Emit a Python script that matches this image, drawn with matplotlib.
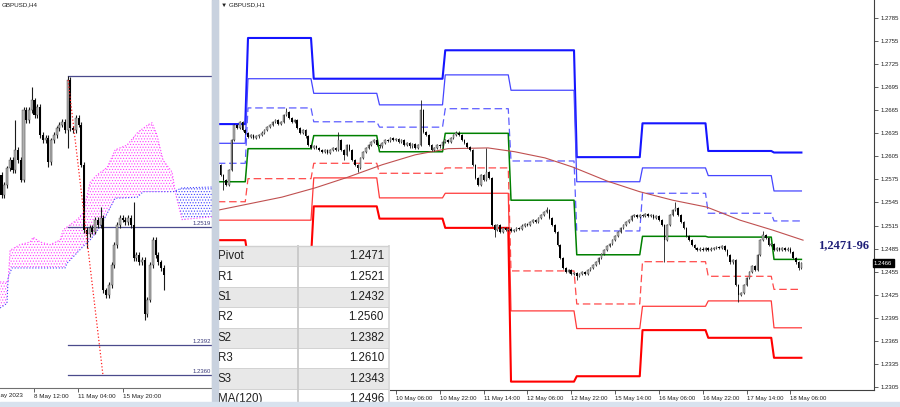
import numpy as np
import matplotlib
matplotlib.use("Agg")
import matplotlib.pyplot as plt
from matplotlib.patches import Rectangle

# ---------------- H1 chart (right panel) ----------------
h1_first_idx = -11
h1_first_open = 1.2600
h1_close = [
    1.2594, 1.2581, 1.2574, 1.2568, 1.2587, 1.2626, 1.2646, 1.2642, 1.2650, 1.2639, 1.2635,
    1.2630, 1.2633, 1.2629, 1.2631, 1.2633, 1.2636, 1.2639, 1.2643, 1.2646, 1.2650,
    1.2652, 1.2647, 1.2650, 1.2659, 1.2663, 1.2655, 1.2650, 1.2652, 1.2642, 1.2636,
    1.2639, 1.2631, 1.2620, 1.2616, 1.2618, 1.2616, 1.2613, 1.2611, 1.2613, 1.2609,
    1.2613, 1.2616, 1.2613, 1.2626, 1.2613, 1.2607, 1.2620, 1.2613, 1.2600, 1.2594,
    1.2590, 1.2603, 1.2611, 1.2616, 1.2620, 1.2624, 1.2626, 1.2620, 1.2618, 1.2622,
    1.2626, 1.2625, 1.2629, 1.2626, 1.2627, 1.2624, 1.2626, 1.2620, 1.2622, 1.2618,
    1.2621, 1.2616, 1.2620, 1.2665, 1.2637, 1.2633, 1.2620, 1.2613, 1.2616, 1.2620,
    1.2618, 1.2624, 1.2626, 1.2624, 1.2629, 1.2633, 1.2636, 1.2633, 1.2626, 1.2622,
    1.2617, 1.2613, 1.2594, 1.2577, 1.2568, 1.2581, 1.2574, 1.2585, 1.2577, 1.2516,
    1.2509, 1.2516, 1.2507, 1.2512, 1.2509, 1.2511, 1.2508, 1.2509, 1.2512, 1.2511,
    1.2515, 1.2517, 1.2516, 1.2520, 1.2522, 1.2520, 1.2525, 1.2529, 1.2533, 1.2535,
    1.2525, 1.2516, 1.2507, 1.2490, 1.2473, 1.2460, 1.2455, 1.2457, 1.2452, 1.2453,
    1.2450, 1.2452, 1.2455, 1.2452, 1.2457, 1.2460, 1.2464, 1.2467, 1.2473, 1.2478,
    1.2483, 1.2488, 1.2491, 1.2496, 1.2501, 1.2507, 1.2512, 1.2516, 1.2520, 1.2522,
    1.2527, 1.2529, 1.2526, 1.2529, 1.2527, 1.2530, 1.2527, 1.2529, 1.2525, 1.2527,
    1.2522, 1.2516, 1.2496, 1.2516, 1.2529, 1.2535, 1.2538, 1.2529, 1.2520, 1.2512,
    1.2501, 1.2496, 1.2490, 1.2486, 1.2483, 1.2485, 1.2483, 1.2486, 1.2483, 1.2485,
    1.2486, 1.2487, 1.2486, 1.2488, 1.2483, 1.2477, 1.2467, 1.2470, 1.2438, 1.2425,
    1.2427, 1.2438, 1.2447, 1.2455, 1.2462, 1.2457, 1.2477, 1.2496, 1.2503, 1.2499,
    1.2490, 1.2491, 1.2483, 1.2486, 1.2483, 1.2486, 1.2483, 1.2485, 1.2481, 1.2473,
    1.2467, 1.2460, 1.2466,
]
h1_hi = {14: 1.2668, 33: 1.2637, 63: 1.2678, 87: 1.2616, 109: 1.2539, 156: 1.2546, 188: 1.2508}
h1_lo = {-9: 1.2561, 35: 1.2600, 40: 1.2585, 90: 1.2500, 120: 1.2444, 152: 1.2467, 179: 1.2416, 201: 1.2457}

# daily pivot levels (5, 8, 9, 10, 11, 12, 15, 16, 17, 18 May)
day_start = [-11, 0, 24, 48, 72, 96, 120, 144, 168, 192]
last_bar = 202
r3 = [1.2647, 1.2759, 1.2706, 1.2706, 1.2743, 1.2743, 1.2604, 1.2648, 1.2612, 1.2610]
r2 = [1.2622, 1.2706, 1.2687, 1.2672, 1.2711, 1.2691, 1.2572, 1.2590, 1.2580, 1.2560]
r1 = [1.2596, 1.2668, 1.2650, 1.2643, 1.2667, 1.2599, 1.2508, 1.2557, 1.2531, 1.2521]
pv = [1.2572, 1.2615, 1.2632, 1.2611, 1.2635, 1.2548, 1.2477, 1.2501, 1.2500, 1.2471]
s1 = [1.2546, 1.2576, 1.2596, 1.2583, 1.2590, 1.2456, 1.2413, 1.2468, 1.2449, 1.2432]
s2 = [1.2522, 1.2522, 1.2577, 1.2551, 1.2557, 1.2404, 1.2381, 1.2410, 1.2417, 1.2382]
s3 = [1.2496, 1.2473, 1.2540, 1.2524, 1.2512, 1.2312, 1.2319, 1.2379, 1.2369, 1.2343]

ma_x = [-11, 12.4, 24.5, 36.5, 48.9, 61, 73, 87.6, 97.4, 108.4, 118.6, 131, 143, 155, 167.5, 179.6, 191.6, 202.6]
ma_y = [1.2535, 1.2552, 1.2564, 1.2578, 1.2594, 1.2607, 1.2615, 1.2616, 1.2611, 1.2603, 1.2591,
        1.2573, 1.2559, 1.2548, 1.2539, 1.2522, 1.2509, 1.2496]

h1_tick_pos = [54, 70, 86, 102, 118, 134, 150, 166, 182, 198]
h1_tick_lab = ["10 May 06:00", "10 May 22:00", "11 May 14:00", "12 May 06:00", "12 May 22:00",
               "15 May 14:00", "16 May 06:00", "16 May 22:00", "17 May 14:00", "18 May 06:00"]
price_ticks = [1.2305, 1.2335, 1.2365, 1.2395, 1.2425, 1.2455, 1.2485, 1.2515, 1.2545,
               1.2575, 1.2605, 1.2635, 1.2665, 1.2695, 1.2725, 1.2755, 1.2785]
last_price = 1.2466

# ---------------- H4 chart (left panel) ----------------
h4_first_open = 1.2575
h4_close = [
    1.2553, 1.2564, 1.2582, 1.2591, 1.2580, 1.2602, 1.2591, 1.2570, 1.2645, 1.2634,
    1.2645, 1.2655, 1.2639, 1.2648, 1.2618, 1.2612, 1.2615, 1.2589, 1.2612, 1.2618,
    1.2625, 1.2629, 1.2632, 1.2623, 1.2677, 1.2625, 1.2623, 1.2636, 1.2629, 1.2586,
    1.2516, 1.2511, 1.2518, 1.2514, 1.2527, 1.2521, 1.2529, 1.2451, 1.2446, 1.2457,
    1.2478, 1.2500, 1.2521, 1.2529, 1.2527, 1.2524, 1.2529, 1.2521, 1.2486, 1.2489,
    1.2481, 1.2484, 1.2425, 1.2441, 1.2478, 1.2505, 1.2489, 1.2481, 1.2475, 1.2467,
]
h4_hi = {5: 1.2634, 11: 1.2669, 24: 1.2681, 36: 1.2540, 48: 1.2546}
h4_lo = {1: 1.2550, 17: 1.2583, 24: 1.2604, 31: 1.2496, 38: 1.2443, 52: 1.2419, 59: 1.2451}

span_a_x = [-0.5, 2.4, 3.1, 6.7, 10.4, 11.5, 14, 17.6, 21.3, 22.4, 27.5, 29.6, 32.2, 34.7,
            38.4, 41.3, 45.6, 49.6, 53.3, 54.7, 56.5, 58.7, 62, 63.1, 65.6, 76.5]
span_a_y = [1.2460, 1.2460, 1.2494, 1.2500, 1.2503, 1.2508, 1.2503, 1.2500, 1.2505, 1.2516,
            1.2527, 1.2534, 1.2567, 1.2575, 1.2583, 1.2602, 1.2607, 1.2621, 1.2629, 1.2631,
            1.2618, 1.2591, 1.2578, 1.2557, 1.2527, 1.2530]
span_b_x = [-0.5, 2.0, 2.4, 3.8, 23.1, 23.8, 29.6, 32.2, 35.8, 41.3, 49.3, 51.5, 62.4, 65.6, 76.5]
span_b_y = [1.2432, 1.2437, 1.2465, 1.2475, 1.2475, 1.2480, 1.2498, 1.2505, 1.2519, 1.2550,
            1.2551, 1.2557, 1.2557, 1.2561, 1.2562]

h4_levels = [1.2681, 1.2519, 1.2392, 1.2360]
h4_level_lab = ["", "1.2519", "1.2392", "1.2360"]
trend_x = [24.2, 36.9]
trend_y = [1.2677, 1.2359]

h4_tick_pos = [-4.2, 11.8, 27.8, 44.2]
h4_tick_lab = ["4 May 2023", "8 May 12:00", "11 May 04:00", "15 May 20:00"]

tbl_names = ["Pivot", "R1", "S1", "R2", "S2", "R3", "S3", "MA(120)"]
tbl_vals = ["1.2471", "1.2521", "1.2432", "1.2560", "1.2382", "1.2610", "1.2343", "1.2496"]

SANS = ["Liberation Sans", "DejaVu Sans"]
plt.rcParams["font.family"] = SANS
plt.rcParams["hatch.linewidth"] = 0.5


def draw_candles(ax, x0, first_open, closes, hi, lo, pad, width, wick_lw):
    closes = np.array(closes)
    opens = np.concatenate([[first_open], closes[:-1]])
    x = x0 + np.arange(len(closes))
    highs = np.maximum(opens, closes) + pad
    lows = np.minimum(opens, closes) - pad
    for k, v in hi.items():
        highs[k - x0] = max(highs[k - x0], v)
    for k, v in lo.items():
        lows[k - x0] = min(lows[k - x0], v)
    up = closes >= opens
    body = np.maximum(np.abs(closes - opens), 0.00004)
    ax.vlines(x, lows, highs, color="#1a1a1a", lw=wick_lw, zorder=3)
    ax.bar(x[up], body[up], width, bottom=opens[up], color="#b0b0b0",
           edgecolor="#3a3a3a", lw=0.3, zorder=4)
    ax.bar(x[~up], body[~up], width, bottom=closes[~up], color="black", lw=0, zorder=4)


def steps(vals):
    xs, ys = [], []
    for d, v in enumerate(vals):
        end = day_start[d + 1] - 1 if d + 1 < len(day_start) else last_bar
        xs += [day_start[d], end]
        ys += [v, v]
    return xs, ys


fig = plt.figure(figsize=(9, 4.07), dpi=100)
fig.patch.set_facecolor("white")

# window frame bits
fig.patches.append(Rectangle((212 / 900, 0), 6 / 900, 1, transform=fig.transFigure,
                             color="#c9d2df", zorder=0))
fig.patches.append(Rectangle((0, 0), 1, 5 / 407, transform=fig.transFigure,
                             color="#d8e2ee", zorder=0))

# ---- left panel ----
ax1 = fig.add_axes([0, 1 - 388 / 407, 212 / 900, 388 / 407])
ax1.set_xlim(-0.55, 76.5)
ax1.set_ylim(1.2346, 1.2763)
for s in ("left", "top"):
    ax1.spines[s].set_visible(False)
ax1.spines["right"].set_color("#707070")
ax1.spines["bottom"].set_color("#707070")
ax1.spines["right"].set_linewidth(0.8)
ax1.spines["bottom"].set_linewidth(0.8)
ax1.set_yticks([])
ax1.set_xticks(h4_tick_pos[1:])
ax1.set_xticklabels(h4_tick_lab[1:], ha="left")
ax1.tick_params(axis="x", length=3, width=0.5, pad=1.5, labelsize=4.5, colors="#202020")
ax1.text(h4_tick_pos[0], -0.013, h4_tick_lab[0], transform=ax1.get_xaxis_transform(),
         ha="left", va="top", fontsize=4.5, color="#202020", clip_on=False)

na = 24
nb = 13
mag_x = span_a_x[:na] + span_b_x[:nb][::-1]
mag_y = span_a_y[:na] + span_b_y[:nb][::-1]
ax1.fill(mag_x, mag_y, fill=False, hatch="......", edgecolor="#ff40ff", lw=0, zorder=1)
blu_x = span_a_x[na - 1:] + span_b_x[nb - 1:][::-1]
blu_y = span_a_y[na - 1:] + span_b_y[nb - 1:][::-1]
ax1.fill(blu_x, blu_y, fill=False, hatch="......", edgecolor="#4040ff", lw=0, zorder=1)
ax1.plot(span_a_x, span_a_y, color="#ff40ff", lw=0.8, ls=":", zorder=2)
ax1.plot(span_b_x, span_b_y, color="#4040ff", lw=0.8, ls=":", zorder=2)

for lv, lb in zip(h4_levels, h4_level_lab):
    ax1.plot([trend_x[0], 76.5], [lv, lv], color="#4a4a8c", lw=0.9, zorder=2)
    if lb:
        ax1.text(76.2, lv + 0.0001, lb, ha="right", va="bottom", fontsize=4.3,
                 color="#3a3a7a", zorder=5)
ax1.plot(trend_x, trend_y, color="#ff2020", lw=0.9, ls=":", zorder=5)

draw_candles(ax1, 0, h4_first_open, h4_close, h4_hi, h4_lo, 0.0003, 0.75, 0.8)

# ---- right panel ----
ax2 = fig.add_axes([218 / 900, 1 - 390 / 407, 656 / 900, 390 / 407])
ax2.set_xlim(-10.95, 228.5)
ax2.set_ylim(1.23011, 1.28084)
ax2.spines["top"].set_visible(False)
ax2.spines["left"].set_color("#a0a0a0")
for s in ("right", "bottom"):
    ax2.spines[s].set_color("#404040")
    ax2.spines[s].set_linewidth(0.8)
ax2.yaxis.tick_right()
ax2.set_yticks(price_ticks)
ax2.set_yticklabels([f"{p:.4f}" for p in price_ticks])
ax2.set_xticks(h1_tick_pos)
ax2.set_xticklabels(h1_tick_lab, ha="left")
ax2.tick_params(axis="both", length=3, width=0.5, labelsize=4.3, colors="#202020")
ax2.tick_params(axis="x", pad=1.5)
ax2.tick_params(axis="y", pad=2)

line_styles = [
    (r3, "#1515ff", 1.5, "-"),
    (r2, "#4545ff", 0.9, "-"),
    (r1, "#5c5cff", 0.9, (0, (6, 3))),
    (pv, "#008000", 1.1, "-"),
    (s1, "#ff4a4a", 0.9, (0, (6, 3))),
    (s2, "#ff3a3a", 0.9, "-"),
    (s3, "#ff0000", 1.5, "-"),
]
for vals, col, lw, ls in line_styles:
    xs, ys = steps(vals)
    ax2.plot(xs, ys, color=col, lw=lw, ls=ls, zorder=2)

ax2.plot(ma_x, ma_y, color="#c05050", lw=0.8, zorder=2)

draw_candles(ax2, h1_first_idx, h1_first_open, h1_close, h1_hi, h1_lo, 0.00015, 0.6, 0.6)

ax2.text(1.0, last_price, "1.2466", transform=ax2.get_yaxis_transform(), ha="left",
         va="center", fontsize=4.3, color="white", clip_on=False, zorder=6,
         bbox=dict(boxstyle="square,pad=0.25", fc="black", ec="black"))

# titles
fig.text(2 / 900, 1 - 5 / 407, "GBPUSD,H4", fontsize=4.5, va="center", color="#202020")
fig.text(221 / 900, 1 - 5 / 407, "\u25bc GBPUSD,H1", fontsize=4.5, va="center", color="#202020")

# level range note
fig.text(818 / 900, 1 - 245 / 407, "1,2471-96", fontsize=9, fontweight="bold",
         family=["Liberation Serif", "DejaVu Serif"], color="#1f1f78", va="center", ha="left")

# ---- table ----
axt = fig.add_axes([213 / 900, 0, 177 / 900, 162 / 407])
axt.set_xlim(0, 177)
axt.set_ylim(162, 0)
axt.axis("off")
row_h = 20.4
for i, (nm, vl) in enumerate(zip(tbl_names, tbl_vals)):
    top = 1 + i * row_h
    fc = "#e8e8e8" if i % 2 == 0 else "white"
    axt.add_patch(Rectangle((0, top), 175, row_h, fc=fc, ec="none"))
    axt.plot([0, 175], [top + row_h, top + row_h], color="#d2d2d2", lw=0.7)
    axt.text(5, top + row_h / 2, nm, ha="left", va="center", fontsize=8.3, color="#1e1e1e")
    axt.text(171, top + row_h / 2, vl, ha="right", va="center", fontsize=8.3, color="#1e1e1e")
axt.plot([85, 85], [0, 162], color="#c8c8c8", lw=1.3)
axt.plot([0.5, 0.5], [0, 162], color="#d0d0d0", lw=1)
axt.plot([0, 175], [0.6, 0.6], color="#d0d0d0", lw=1)
axt.add_patch(Rectangle((175, 0), 2, 162, fc="#dcdcdc", ec="none"))

fig.savefig("out.png", dpi=100)
